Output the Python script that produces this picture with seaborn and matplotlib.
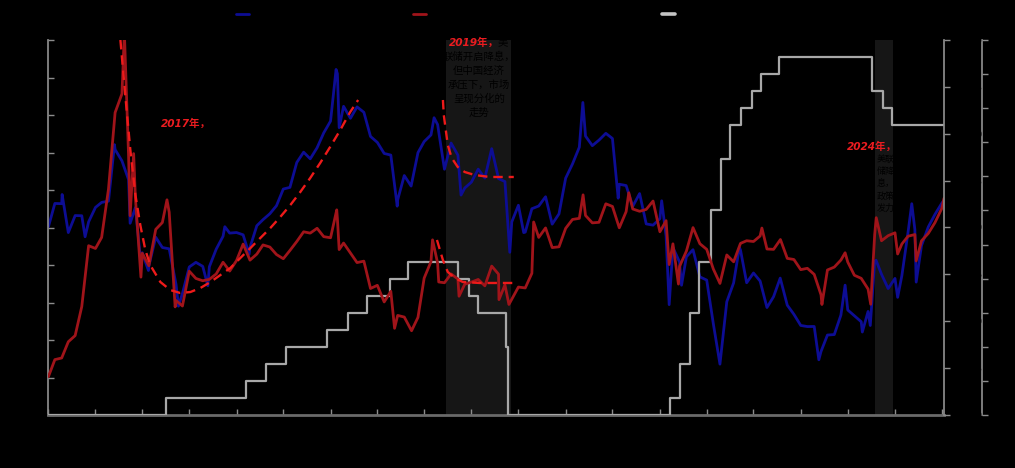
import pandas as pd
import numpy as np
import matplotlib
matplotlib.use("Agg")
import matplotlib.pyplot as plt
from matplotlib.lines import Line2D
import seaborn as sns

# ---------------- data ----------------
# left axis: Hang Seng style index
hsi_dates = [
    "2014-07-03", "2014-08-01", "2014-09-01", "2014-09-03", "2014-10-01", "2014-11-01", "2014-12-01", "2014-12-16",
    "2015-01-01", "2015-02-01", "2015-03-01", "2015-04-01", "2015-04-28", "2015-05-01", "2015-06-01", "2015-07-01",
    "2015-07-08", "2015-08-01", "2015-08-24", "2015-09-01", "2015-09-29", "2015-10-01", "2015-11-01", "2015-12-01",
    "2016-01-01", "2016-02-01", "2016-02-12", "2016-03-01", "2016-04-01", "2016-05-01", "2016-06-01", "2016-06-24",
    "2016-07-01", "2016-08-01", "2016-09-01", "2016-09-09", "2016-10-01", "2016-11-01", "2016-12-01", "2016-12-28",
    "2017-01-01", "2017-02-01", "2017-03-01", "2017-04-01", "2017-05-01", "2017-06-01", "2017-07-01", "2017-08-01",
    "2017-09-01", "2017-10-01", "2017-11-01", "2017-12-01", "2018-01-01", "2018-01-26", "2018-02-01", "2018-02-09",
    "2018-03-01", "2018-04-01", "2018-05-01", "2018-06-01", "2018-07-01", "2018-08-01", "2018-09-01", "2018-10-01",
    "2018-10-30", "2018-11-01", "2018-12-01", "2019-01-01", "2019-02-01", "2019-03-01", "2019-04-01", "2019-04-15",
    "2019-05-01", "2019-06-01", "2019-07-01", "2019-08-01", "2019-08-15", "2019-09-01", "2019-10-01", "2019-11-01",
    "2019-12-01", "2020-01-01", "2020-02-01", "2020-03-01", "2020-03-23", "2020-04-01", "2020-05-01", "2020-05-25",
    "2020-06-01", "2020-07-01", "2020-08-01", "2020-09-01", "2020-10-01", "2020-11-01", "2020-12-01", "2021-01-01",
    "2021-02-01", "2021-02-17", "2021-03-01", "2021-04-01", "2021-05-01", "2021-06-01", "2021-07-01", "2021-07-27",
    "2021-08-01", "2021-09-01", "2021-10-01", "2021-11-01", "2021-12-01", "2022-01-01", "2022-02-01", "2022-02-09",
    "2022-03-01", "2022-03-15", "2022-04-01", "2022-05-01", "2022-05-10", "2022-06-01", "2022-07-01", "2022-08-01",
    "2022-09-01", "2022-10-01", "2022-10-31", "2022-12-01", "2023-01-01", "2023-01-27", "2023-02-01", "2023-03-01",
    "2023-04-01", "2023-05-01", "2023-06-01", "2023-07-01", "2023-07-31", "2023-09-01", "2023-10-01", "2023-11-01",
    "2023-12-01", "2024-01-01", "2024-01-22", "2024-02-01", "2024-03-01", "2024-04-01", "2024-05-01", "2024-05-20",
    "2024-06-01", "2024-07-01", "2024-08-01", "2024-08-06", "2024-09-01", "2024-09-11", "2024-10-01", "2024-10-07",
    "2024-11-01", "2024-12-01", "2025-01-01", "2025-01-13", "2025-02-01", "2025-03-01", "2025-03-18", "2025-04-01",
    "2025-04-07", "2025-05-01", "2025-06-01", "2025-07-01", "2025-08-01", "2025-08-11",
]
hsi_vals = [
    23300, 24757, 24742, 25318, 22932, 23998, 23987, 22670,
    23605, 24507, 24823, 24901, 28443, 28133, 27424, 26250,
    23516, 24500, 21252, 21670, 20556, 20846, 22640, 21996,
    21914, 19683, 18320, 19112, 20777, 21067, 20815, 19600,
    20794, 21891, 22700, 23300, 22900, 22935, 22790, 21574,
    22001, 23361, 23741, 24112, 24615, 25661, 25765, 27324,
    27970, 27554, 28246, 29177, 29919, 33154, 32887, 29507,
    30845, 30093, 30808, 30469, 28955, 28583, 27889, 27789,
    24586, 24980, 26507, 25846, 27942, 28633, 29051, 30129,
    29699, 26901, 28543, 27778, 25281, 25725, 26092, 26907,
    26346, 28190, 26313, 26130, 21696, 23603, 24644, 22930,
    22961, 24427, 24595, 25177, 23459, 24107, 26341, 27231,
    28284, 31085, 28980, 28378, 28725, 29151, 28828, 25086,
    25961, 25879, 24576, 25377, 23475, 23398, 23802, 24924,
    22713, 18415, 21997, 21089, 19633, 21415, 21860, 20157,
    19954, 17223, 14687, 18597, 19781, 22000, 21842, 19786,
    20400, 19895, 18234, 18916, 20079, 18382, 17810, 17112,
    17042, 17047, 14961, 15485, 16511, 16541, 17763, 19636,
    18080, 17719, 17345, 16700, 17989, 17109, 21134, 21200,
    20317, 19424, 20060, 18874, 20225, 22941, 24740, 23120,
    19828, 22119, 23290, 24072, 24773, 24970,
]

# right axis 1: Shanghai style index
sh_dates = [
    "2014-07-03", "2014-08-01", "2014-09-01", "2014-10-01", "2014-11-01", "2014-12-01", "2015-01-01", "2015-02-01",
    "2015-03-01", "2015-04-01", "2015-05-01", "2015-06-01", "2015-06-12", "2015-07-01", "2015-07-08", "2015-07-24",
    "2015-08-01", "2015-08-26", "2015-09-01", "2015-10-01", "2015-11-01", "2015-12-01", "2015-12-22", "2016-01-01",
    "2016-01-28", "2016-02-01", "2016-03-01", "2016-04-01", "2016-05-01", "2016-06-01", "2016-07-01", "2016-08-01",
    "2016-09-01", "2016-10-01", "2016-11-01", "2016-12-01", "2017-01-01", "2017-02-01", "2017-03-01", "2017-04-01",
    "2017-05-01", "2017-06-01", "2017-07-01", "2017-08-01", "2017-09-01", "2017-10-01", "2017-11-01", "2017-12-01",
    "2018-01-01", "2018-01-29", "2018-02-01", "2018-02-09", "2018-03-01", "2018-04-01", "2018-05-01", "2018-06-01",
    "2018-07-01", "2018-08-01", "2018-09-01", "2018-10-01", "2018-10-18", "2018-11-01", "2018-12-01", "2019-01-03",
    "2019-02-01", "2019-03-01", "2019-04-01", "2019-04-08", "2019-05-01", "2019-05-06", "2019-06-01", "2019-07-01",
    "2019-08-01", "2019-08-06", "2019-09-01", "2019-10-01", "2019-11-01", "2019-12-01", "2020-01-01", "2020-02-01",
    "2020-02-03", "2020-03-01", "2020-03-19", "2020-04-01", "2020-05-01", "2020-06-01", "2020-07-01", "2020-07-09",
    "2020-08-01", "2020-09-01", "2020-10-01", "2020-11-01", "2020-12-01", "2021-01-01", "2021-02-01", "2021-02-18",
    "2021-03-01", "2021-04-01", "2021-05-01", "2021-06-01", "2021-07-01", "2021-08-01", "2021-09-01", "2021-09-13",
    "2021-10-01", "2021-11-01", "2021-12-01", "2022-01-01", "2022-02-01", "2022-03-01", "2022-03-15", "2022-04-01",
    "2022-04-26", "2022-05-01", "2022-06-01", "2022-07-01", "2022-08-01", "2022-09-01", "2022-10-01", "2022-10-31",
    "2022-12-01", "2023-01-01", "2023-02-01", "2023-03-01", "2023-04-01", "2023-05-01", "2023-05-09", "2023-06-01",
    "2023-07-01", "2023-08-01", "2023-09-01", "2023-10-01", "2023-11-01", "2023-12-01", "2024-01-01", "2024-02-01",
    "2024-02-05", "2024-03-01", "2024-04-01", "2024-05-01", "2024-05-20", "2024-06-01", "2024-07-01", "2024-08-01",
    "2024-09-01", "2024-09-13", "2024-10-01", "2024-10-08", "2024-11-01", "2024-12-01", "2025-01-01", "2025-01-13",
    "2025-02-01", "2025-03-01", "2025-04-01", "2025-04-07", "2025-05-01", "2025-06-01", "2025-07-01", "2025-08-01",
    "2025-08-11",
]
sh_vals = [
    2048, 2202, 2217, 2364, 2420, 2683, 3235, 3210,
    3310, 3748, 4442, 4612, 5166, 4050, 3507, 4070,
    3664, 2950, 3166, 3053, 3383, 3445, 3651, 3539,
    2680, 2738, 2688, 3004, 2938, 2917, 2930, 2979,
    3085, 3005, 3100, 3250, 3104, 3159, 3242, 3223,
    3155, 3117, 3192, 3273, 3361, 3349, 3393, 3317,
    3307, 3560, 3481, 3200, 3259, 3169, 3082, 3095,
    2847, 2876, 2725, 2821, 2486, 2603, 2588, 2464,
    2585, 2941, 3091, 3288, 3078, 2906, 2899, 2979,
    2933, 2777, 2886, 2905, 2929, 2871, 3050, 2977,
    2746, 2880, 2702, 2750, 2860, 2852, 2985, 3450,
    3310, 3396, 3218, 3225, 3392, 3473, 3483, 3696,
    3509, 3442, 3447, 3615, 3591, 3397, 3544, 3715,
    3568, 3547, 3564, 3640, 3361, 3462, 3064, 3252,
    2887, 3047, 3186, 3399, 3253, 3202, 3024, 2893,
    3151, 3089, 3256, 3280, 3273, 3323, 3395, 3205,
    3202, 3291, 3120, 3110, 3018, 3030, 2975, 2789,
    2702, 3015, 3041, 3105, 3171, 3087, 2967, 2939,
    2842, 2704, 3336, 3489, 3280, 3326, 3352, 3160,
    3250, 3321, 3336, 3097, 3279, 3347, 3444, 3573,
    3665,
]

# right axis 2: policy rate lower bound (%)
rate_dates = [
    "2014-07-03", "2015-12-17", "2016-12-15", "2017-03-16", "2017-06-15", "2017-12-14", "2018-03-22",
    "2018-06-14", "2018-09-27", "2018-12-20", "2019-08-01", "2019-09-19", "2019-10-31", "2020-03-04",
    "2020-03-16", "2022-03-17", "2022-05-05", "2022-06-16", "2022-07-28", "2022-09-22", "2022-11-03",
    "2022-12-15", "2023-02-02", "2023-03-23", "2023-05-04", "2023-07-27", "2024-09-19", "2024-11-08",
    "2024-12-19", "2025-08-11",
]
rate_vals = [
    0.0, 0.25, 0.5, 0.75, 1.0, 1.25, 1.5,
    1.75, 2.0, 2.25, 2.0, 1.75, 1.5, 1.0,
    0.0, 0.25, 0.75, 1.5, 2.25, 3.0, 3.75,
    4.25, 4.5, 4.75, 5.0, 5.25, 4.75, 4.5,
    4.25, 4.25,
]

# hand drawn dashed trend guides (right axis 1 units)
trend17_dates = [
    "2015-05-25", "2015-06-16", "2015-07-09", "2015-08-01", "2015-08-23", "2015-09-15", "2015-10-07",
    "2015-11-22", "2016-01-06", "2016-02-20", "2016-04-06", "2016-05-21", "2016-07-06", "2016-08-20",
    "2016-10-04", "2016-11-18", "2017-01-03", "2017-02-17", "2017-04-03", "2017-05-18", "2017-07-03",
    "2017-08-17", "2017-10-01", "2017-11-15", "2017-12-30", "2018-02-14", "2018-03-31", "2018-05-06",
]
trend17_vals = [
    5100, 4601, 4103, 3695, 3423, 3196, 3060,
    2906, 2833, 2806, 2815, 2851, 2906, 2969,
    3033, 3123, 3214, 3305, 3395, 3495, 3604,
    3722, 3849, 3985, 4130, 4284, 4447, 4556,
]
trend19a_dates = ["2019-05-25", "2019-05-29", "2019-06-07", "2019-06-16", "2019-07-04",
                  "2019-07-31", "2019-09-01", "2019-10-16", "2019-12-23", "2020-04-10"]
trend19a_vals = [4556, 4420, 4284, 4148, 4030, 3949, 3903, 3876, 3858, 3858]
trend19b_dates = ["2019-04-28", "2019-05-25", "2019-06-16", "2019-07-18", "2019-08-23",
                  "2019-11-08", "2020-04-05"]
trend19b_vals = [3287, 3105, 2997, 2942, 2906, 2897, 2897]

shade_spans = [("2019-06-07", "2020-03-27"), ("2024-10-03", "2024-12-23")]

legend_labels = ["恒生指数", "上证综指（右轴）", "美国联邦基金目标利率下限（%，右轴）"]

BLUE = "#0d0d94"
RED = "#a0141a"
GRAY = "#a8a8a8"
DASH = "#ee1a1a"
AXC = "#8c8c8c"

# ---------------- drawing ----------------
sns.set_theme(style="dark", rc={"axes.facecolor": "black", "figure.facecolor": "black",
                                "text.color": "black"})
plt.rcParams['font.family'] = ['DejaVu Sans', 'Noto Sans CJK SC']
plt.rcParams['axes.unicode_minus'] = False

W, H = 1015, 468
fig = plt.figure(figsize=(W / 100, H / 100), dpi=100, facecolor="black")
ax = fig.add_axes([48 / W, 53 / H, 896 / W, 375 / H])
ax.set_facecolor("black")
ax3 = ax.twinx()
ax2 = ax.twinx()

for s, e in shade_spans:
    ax.axvspan(pd.Timestamp(s), pd.Timestamp(e), color="#161616", lw=0, zorder=0)

sns.lineplot(x=pd.to_datetime(hsi_dates), y=hsi_vals, ax=ax, color=BLUE, lw=2.0, legend=False)
sns.lineplot(x=pd.to_datetime(rate_dates), y=rate_vals, ax=ax3, color=GRAY, lw=1.6,
             drawstyle="steps-post", legend=False)
sns.lineplot(x=pd.to_datetime(sh_dates), y=sh_vals, ax=ax2, color=RED, lw=2.0, legend=False)
for d, v in [(trend17_dates, trend17_vals), (trend19a_dates, trend19a_vals), (trend19b_dates, trend19b_vals)]:
    sns.lineplot(x=pd.to_datetime(d), y=v, ax=ax2, color=DASH, lw=1.7,
                 linestyle=(0, (4, 2.5)), legend=False)

ax.set_xlim(pd.Timestamp("2014-07-03"), pd.Timestamp("2025-08-11"))
ax.set_ylim(11500, 35000)
ax.set_yticks(np.linspace(11500, 35000, 11))
ax2.set_ylim(1700, 5100)
ax2.set_yticks(np.linspace(1700, 5100, 9))
ax3.set_ylim(0, 5.5)
ax3.set_yticks(np.arange(0, 5.51, 0.5))

xt = pd.date_range("2014-07-01", "2025-08-01", freq="7MS")
ax.set_xticks(xt)
ax.set_xticklabels([d.strftime("%Y-%m") for d in xt])

for a in (ax, ax2, ax3):
    a.set_xlabel("")
    a.set_ylabel("")
    a.grid(False)
    for sp in a.spines.values():
        sp.set_visible(False)

ax.spines["left"].set_visible(True)
ax.spines["left"].set_color(AXC)
ax.spines["bottom"].set_visible(True)
ax.spines["bottom"].set_color("#6a6a6a")
ax.spines["bottom"].set_linewidth(2)
ax2.spines["right"].set_visible(True)
ax2.spines["right"].set_color(AXC)
ax3.spines["right"].set_visible(True)
ax3.spines["right"].set_color(AXC)
ax3.spines["right"].set_position(("outward", 27.4))

ax.tick_params(axis="y", left=True, right=False, direction="in", length=4, width=1,
               color=AXC, labelcolor="black", labelsize=8)
ax.tick_params(axis="x", bottom=True, direction="in", length=4, width=1,
               color=AXC, labelcolor="black", labelsize=8)
for a in (ax2, ax3):
    a.tick_params(axis="y", right=True, left=False, direction="out", length=4, width=1,
                  color=AXC, labelcolor="black", labelsize=8)

# legend (black labels, as in the original)
leg_x = [236, 413, 662]
for lab, col, lx, lw in zip(legend_labels, [BLUE, RED, "#c4c4c4"], leg_x, [2.0, 2.0, 2.6]):
    h = Line2D([], [], color=col, lw=lw)
    fig.legend(handles=[h], labels=[lab], loc="center left", bbox_to_anchor=(lx / W, 1 - 15 / H),
               frameon=False, handlelength=1.2, handletextpad=0.4, borderpad=0, borderaxespad=0,
               fontsize=8, labelcolor="black")

# annotations
red_kw = dict(color="#ea1c20", fontsize=7.6, fontweight="bold", style="italic", va="center", ha="left")
blk_kw = dict(color="#000000", fontsize=7.5, va="top", ha="center", linespacing=1.45)

fig.text(161 / W, 1 - 124 / H, "2017年，", **red_kw)
fig.text(200 / W, 1 - 133 / H, "美联储开启加息周期，\n港股与A股走出慢牛", **blk_kw)

fig.text(449 / W, 1 - 43 / H, "2019年，", **red_kw)
fig.text(498 / W, 1 - 43 / H, "美", **dict(blk_kw, ha="left", va="center"))
fig.text(479 / W, 1 - 52 / H, "联储开启降息，\n但中国经济\n承压下，市场\n呈现分化的\n走势", **blk_kw)

fig.text(847 / W, 1 - 147 / H, "2024年，", **red_kw)
fig.text(886 / W, 1 - 155 / H, "美联\n储降\n息，\n政策\n发力", **dict(blk_kw, fontsize=6.5))

fig.savefig("out.png", dpi=100, facecolor="black")
